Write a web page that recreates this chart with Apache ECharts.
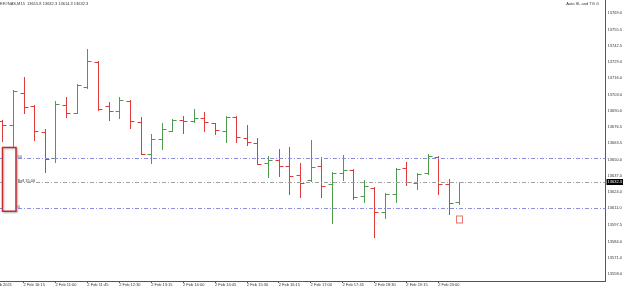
<!DOCTYPE html>
<html><head><meta charset="utf-8">
<script src="https://cdn.jsdelivr.net/npm/echarts@6/dist/echarts.min.js"></script>
<style>html,body{margin:0;padding:0;background:#fff}#c{width:625px;height:289px}</style>
</head><body><div id="c"></div>
<script>
// ---- data ----
const times = ['09:45','10:00','10:15','10:30','10:45','11:00','11:15','11:30','11:45','12:00','12:15','12:30','12:45','13:00','13:15','13:30','13:45','14:00','14:15','14:30','14:45','15:00','15:15','15:30','15:45','16:00','16:15','16:30','16:45','17:00','17:15','17:30','17:45','18:00','18:15','18:30','18:45','19:00','19:15','19:30','19:45','20:00','20:15','20:30'];
const opens  = [13681.6,13678.1,13704.4,13693.9,13672.9,13651.9,13694.5,13688.3,13709.0,13729.4,13693.7,13689.6,13697.9,13681.0,13654.9,13667.3,13673.7,13682.1,13681.6,13684.0,13679.7,13673.7,13685.0,13668.1,13664.0,13647.6,13650.1,13645.2,13637.9,13633.9,13645.0,13630.4,13639.8,13641.7,13621.2,13627.7,13607.8,13622.8,13643.4,13631.2,13639.3,13652.7,13630.4,13615.8];
const highs  = [13682.4,13706.6,13716.8,13694.5,13674.9,13697.7,13700.7,13711.2,13739.5,13730.0,13697.1,13700.7,13698.5,13685.0,13670.8,13680.2,13682.9,13685.8,13691.0,13688.8,13679.9,13685.6,13685.6,13678.3,13667.6,13653.3,13658.7,13660.8,13647.9,13666.2,13652.2,13640.1,13653.9,13642.5,13633.9,13628.5,13623.2,13643.6,13648.7,13639.3,13654.9,13653.3,13634.5,13632.3];
const lows   = [13665.4,13656.5,13688.3,13666.2,13640.6,13648.7,13684.5,13687.8,13708.0,13690.4,13682.4,13683.7,13675.7,13654.5,13647.4,13658.9,13673.5,13672.1,13681.0,13673.7,13670.8,13664.8,13664.8,13662.2,13646.8,13636.1,13637.1,13622.4,13619.9,13633.3,13620.4,13598.9,13633.9,13618.3,13616.4,13588.1,13603.5,13616.1,13629.9,13626.4,13639.0,13622.6,13606.2,13614.3];
const closes = [13678.3,13706.0,13693.1,13673.7,13651.1,13695.0,13688.3,13710.6,13730.0,13691.2,13689.6,13698.3,13681.3,13655.3,13667.3,13674.8,13682.1,13681.6,13684.2,13680.7,13674.5,13684.8,13668.4,13664.4,13647.1,13650.3,13645.2,13637.1,13631.7,13644.4,13629.3,13639.6,13642.0,13620.4,13629.3,13608.3,13622.8,13643.0,13632.1,13639.0,13653.5,13630.4,13615.6,13632.3];
const priceTicks = ['13769.0','13755.5','13742.5','13729.0','13716.0','13703.0','13690.0','13676.5','13663.5','13650.0','13637.0','13624.0','13611.0','13597.5','13584.0','13571.0','13558.0'];
const timeLabels = ['2 Feb 2021','2 Feb 10:15','2 Feb 11:00','2 Feb 11:45','2 Feb 12:30','2 Feb 13:15','2 Feb 14:00','2 Feb 14:45','2 Feb 15:30','2 Feb 16:15','2 Feb 17:00','2 Feb 17:45','2 Feb 18:30','2 Feb 19:15','2 Feb 20:00'];
const timeLabelIdx = [-1,2,5,8,11,14,17,20,23,26,29,32,35,38,41];
const levelUpper = 13651.3, levelCurrent = 13632.3, levelLower = 13611.1;
const levelTexts = ['50','Sell 15.00','0'];
const titleText = 'ER#NAS,M15  13615.8 13632.3 13614.3 13632.3';
const cornerText = 'Auto SL and TG \u2299';
const iconPrice = 13602.0;

// ---- chart ----
const GREEN = '#4e9a4e', RED = '#e03a3a';
const FONT = 'Liberation Sans';
const chart = echarts.init(document.getElementById('c'));
const ohlc = times.map((t,i)=>[i, opens[i], highs[i], lows[i], closes[i]]);
const inRange = timeLabelIdx.filter(v=>v>=0);
const option = {
  animation:false,
  backgroundColor:'#fff',
  grid:{left:0,right:19,top:0,bottom:8},
  xAxis:{type:'value',min:-0.216,max:56.74,
    axisLine:{show:true,onZero:false,lineStyle:{color:'#555',width:1}},
    axisTick:{show:true,length:2,customValues:inRange,lineStyle:{color:'#555'}},
    axisLabel:{show:true,customValues:inRange,align:'left',margin:2,fontSize:4,fontFamily:FONT,color:'#333',
      formatter:v=>timeLabels[timeLabelIdx.indexOf(Math.round(v))]||''},
    splitLine:{show:false}},
  yAxis:{type:'value',position:'right',min:13552.35,max:13779.26,
    axisLine:{show:true,onZero:false,lineStyle:{color:'#555',width:1}},
    axisTick:{show:false},
    axisLabel:{show:true,customValues:priceTicks.map(Number),margin:2,fontSize:4,fontFamily:FONT,color:'#333',
      formatter:v=>{const k=priceTicks.map(Number).indexOf(v);return k>=0?priceTicks[k]:v.toFixed(1);}},
    splitLine:{show:false}},
  series:[{
    type:'custom',clip:true,data:ohlc,encode:{x:0,y:[1,2,3,4]},
    renderItem:(params,api)=>{
      const i=api.value(0),o=api.value(1),h=api.value(2),l=api.value(3),c=api.value(4);
      const pH=api.coord([i,h]),pL=api.coord([i,l]),pO=api.coord([i,o]),pC=api.coord([i,c]);
      const x=Math.round(pH[0])+0.5;
      const col=c>=o?GREEN:RED;
      const st={stroke:col,lineWidth:1};
      const yo=Math.round(pO[1])+0.5, yc=Math.round(pC[1])+0.5;
      return {type:'group',children:[
        {type:'line',shape:{x1:x,y1:Math.round(pH[1]),x2:x,y2:Math.round(pL[1])+1},style:st},
        {type:'line',shape:{x1:x-4,y1:yo,x2:x,y2:yo},style:st},
        {type:'line',shape:{x1:x,y1:yc,x2:x+4,y2:yc},style:st}
      ]};
    },
    markLine:{silent:true,symbol:'none',
      data:[
        {yAxis:levelUpper,lineStyle:{color:'#8c8ce6',type:[4,2,1,2],width:1},label:{show:false}},
        {yAxis:levelLower,lineStyle:{color:'#8c8ce6',type:[4,2,1,2],width:1},label:{show:false}},
        {yAxis:levelCurrent,lineStyle:{color:'#a0a0a0',type:[4,2,1,2],width:1},
          label:{show:true,position:'end',distance:1,formatter:levelCurrent.toFixed(1),color:'#fff',backgroundColor:'#000',fontSize:4,fontFamily:FONT,padding:[1,1,1,1]}}
      ]},
    markPoint:{silent:true,symbol:'rect',symbolSize:[6,7],
      itemStyle:{color:'rgba(255,255,255,0)',borderColor:'#e87070',borderWidth:1},
      label:{show:false},
      data:[{coord:[times.length-1,iconPrice]}]}
  }]
};
chart.setOption(option);
// overlay texts & panel box, positioned via the axes
const yU=chart.convertToPixel({yAxisIndex:0},levelUpper);
const yC=chart.convertToPixel({yAxisIndex:0},levelCurrent);
const yL=chart.convertToPixel({yAxisIndex:0},levelLower);
const xFirst=chart.convertToPixel({xAxisIndex:0},timeLabelIdx[0]);
const axisY=chart.convertToPixel({yAxisIndex:0},13552.35);
const tstyle=(t)=>({text:t,fontSize:4,fontFamily:FONT,fill:'#333',textVerticalAlign:'middle'});
chart.setOption({graphic:[
  {type:'rect',shape:{x:2.5,y:yU-11,width:13.5,height:(yL-yU)+14},style:{fill:'#fff',stroke:'#c62c2c',lineWidth:1.5,shadowColor:'rgba(0,0,0,0.25)',shadowBlur:2,shadowOffsetX:1,shadowOffsetY:1},z:100},
  {type:'text',x:17.5,y:yU-1.5,style:tstyle(levelTexts[0]),z:101},
  {type:'text',x:17.5,y:yC-1.5,style:tstyle(levelTexts[1]),z:101},
  {type:'text',x:17.5,y:yL-1.5,style:tstyle(levelTexts[2]),z:101},
  {type:'text',x:xFirst,y:axisY+4,style:tstyle(timeLabels[0]),z:101},
  {type:'text',x:0,y:3.5,style:tstyle(titleText),z:101},
  {type:'text',x:599,y:3.5,style:Object.assign(tstyle(cornerText),{textAlign:'right'}),z:101}
]});
</script></body></html>
